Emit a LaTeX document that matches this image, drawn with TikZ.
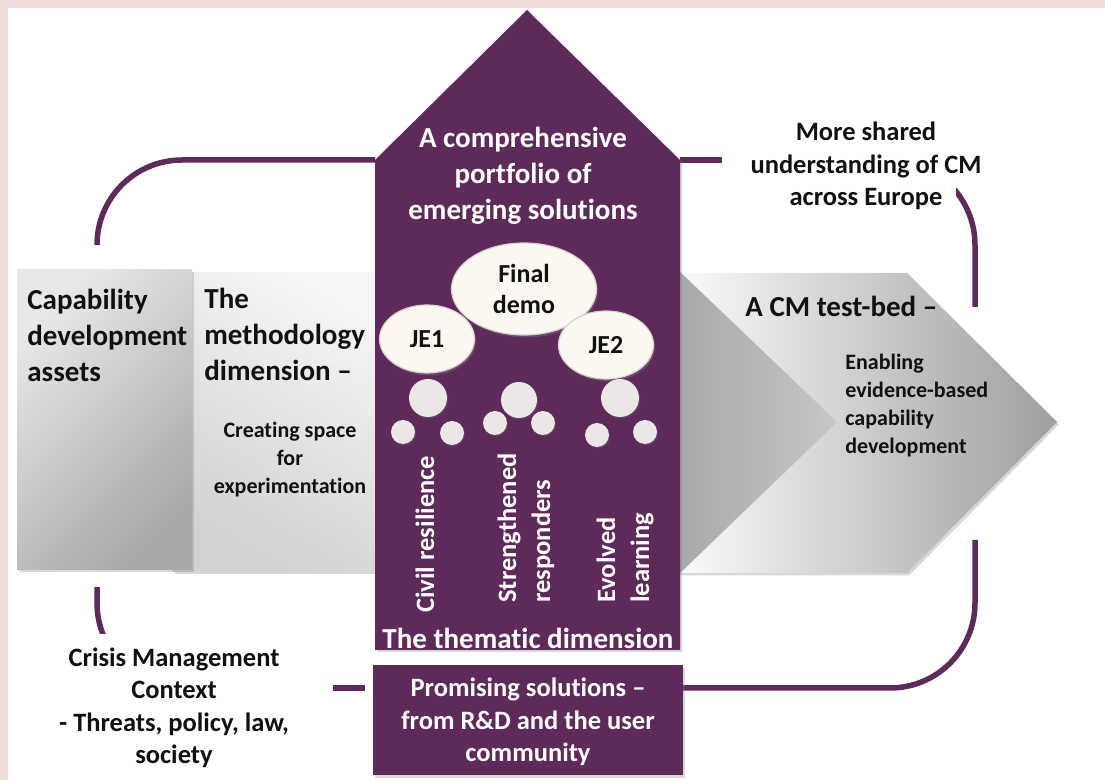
\documentclass[tikz,border=0pt]{standalone}
\usepackage{fontspec}
\setmainfont{Carlito}[Ligatures={NoCommon}]
\usetikzlibrary{shapes.geometric,shadows}
\definecolor{purp}{HTML}{5D2A5A}
\definecolor{pinkbg}{HTML}{F1DCDC}
\definecolor{bubfill}{HTML}{FBF8F1}
\definecolor{bubedge}{HTML}{D8D2CC}
\definecolor{dotfill}{HTML}{ECE7E7}
\definecolor{txtblack}{HTML}{111111}
\newcommand\fbig{\fontsize{14.5}{18}\selectfont\bfseries}
\newcommand\fmid{\fontsize{13.25}{16.25}\selectfont\bfseries}
\newcommand\frot{\fontsize{13.25}{17}\selectfont\bfseries}
\newcommand\fsmall{\fontsize{11}{14}\selectfont\bfseries}
\newcommand\fbub{\fontsize{13}{15.5}\selectfont\bfseries}
\begin{document}
\begin{tikzpicture}[x=0.5pt,y=-0.5pt,
  conn/.style={draw=purp, line width=2.75pt},
  conncurve/.style={draw=purp, line width=2.75pt, rounded corners=42.5pt},
  bub/.style={ellipse, fill=bubfill, draw=bubedge, line width=0.6pt, inner sep=0pt, text=txtblack, font=\fbub, align=center,
    drop shadow={opacity=0.35, shadow xshift=0.8pt, shadow yshift=-1.2pt}},
  dotbig/.style={circle, fill=dotfill, inner sep=0pt, minimum size=19pt, drop shadow={opacity=0.25, shadow xshift=0.6pt, shadow yshift=-0.8pt}},
  dotsmall/.style={circle, fill=dotfill, inner sep=0pt, minimum size=12pt, drop shadow={opacity=0.25, shadow xshift=0.5pt, shadow yshift=-0.7pt}},
  btxt/.style={inner sep=0pt, text=txtblack},
  wtxt/.style={inner sep=0pt, text=white},
  boxshadow/.style={drop shadow={opacity=0.3, shadow xshift=1pt, shadow yshift=-1.2pt}},
]
\useasboundingbox (0,0) rectangle (1105,780);
\fill[white] (0,0) rectangle (1105,780);
\fill[pinkbg] (0,0) rectangle (1105,8);
\fill[pinkbg] (0,0) rectangle (8,780);

% connector loop pieces
\coordinate (tl) at (97,245);
\coordinate (houseL) at (375,160);
\coordinate (houseR) at (680,160);
\coordinate (trEnd) at (722,160);
\draw[conncurve] (tl) |- (houseL);
\draw[conn] (houseR) -- (trEnd);
\begin{scope}
  \clip (956,150) rectangle (1010,307);
  \draw[conncurve] (860,160) -| (975,330);
\end{scope}
\coordinate (brStart) at (975,540);
\coordinate (promR) at (683,688);
\draw[conncurve] (brStart) |- (promR);
\coordinate (dashA) at (333,688);
\coordinate (dashB) at (365,688);
\draw[conn] (dashA) -- (dashB);
\begin{scope}
  \clip (80,588) rectangle (130,634);
  \draw[conncurve] (97,560) |- (300,688);
\end{scope}

% grey blocks
\path[boxshadow, top color=white!96!black, bottom color=white!82!black, shading angle=-30]
  (173,273) rectangle (380,572);
\path[boxshadow, top color=white!91!black, bottom color=white!66!black, shading angle=45]
  (17,270) rectangle (192,570);
\path[boxshadow, left color=white!98!black, right color=white!62!black]
  (678,273) -- (907,273) -- (1057,422) -- (907,573) -- (678,573) -- cycle;
\path[left color=white!66!black, right color=white!78!black]
  (678,270) -- (837,422) -- (678,575) -- cycle;

% house
\path[fill=purp, drop shadow={opacity=0.3, shadow xshift=1pt, shadow yshift=-1pt}]
  (375,160) -- (527,10) -- (680,160) -- (680,650) -- (375,650) -- cycle;
\node[fill=purp, minimum width=155pt, minimum height=55pt, inner sep=0pt, anchor=north west, boxshadow] (prombox) at (373,665) {};

% texts
\node[btxt, anchor=west, align=left, font=\fbig] (cap) at (27,335) {Capability\\development\\assets};
\node[btxt, anchor=west, align=left, font=\fbig] (meth) at (204,334) {The\\methodology\\dimension –};
\node[btxt, align=center, font=\fsmall] (creat) at (290,460) {Creating space\\for\\experimentation};
\node[wtxt, align=center, font=\fbig] (compr) at (523,176) {A comprehensive\\portfolio of\\emerging solutions};
\node[btxt, align=center, font=\fmid] (more) at (866,166) {More shared\\understanding of CM\\across Europe};
\node[btxt, anchor=west, font=\fbig] (testbed) at (745,306) {A CM test-bed –};
\node[btxt, anchor=west, align=left, font=\fsmall] (enab) at (845,406) {Enabling\\evidence-based\\capability\\development};
\node[wtxt, font=\fbig] (them) at (528,638) {The thematic dimension};
\node[btxt, align=center, font=\fmid] (crisis) at (174,708) {Crisis Management\\Context\\- Threats, policy, law,\\society};
\node[wtxt, align=center, font=\fmid] (prom) at (528,722) {Promising solutions –\\from R\&D and the user\\community};

% rotated theme labels
\node[wtxt, rotate=90, anchor=west, font=\frot] (civil) at (425,613) {Civil resilience};
\node[wtxt, rotate=90, anchor=west, align=left, font=\frot] (streng) at (526,603) {Strengthened\\responders};
\node[wtxt, rotate=90, anchor=west, align=left, font=\frot] (evol) at (625,603) {Evolved\\learning};

% bubbles
\node[bub, minimum width=72.5pt, minimum height=46pt] (final) at (524,289) {Final\\demo};
\node[bub, minimum width=47.5pt, minimum height=34pt] (je1) at (427,339) {JE1};
\node[bub, minimum width=47.5pt, minimum height=34pt] (je2) at (606,345) {JE2};
\node[dotbig] (m1) at (428,398) {};
\node[dotbig, minimum size=18pt] (m2) at (519,400) {};
\node[dotbig] (m3) at (620,398) {};
\node[dotsmall] (s1) at (403,432) {};
\node[dotsmall] (s2) at (452,433) {};
\node[dotsmall] (s3) at (495,423) {};
\node[dotsmall] (s4) at (543,423) {};
\node[dotsmall] (s5) at (597,435) {};
\node[dotsmall] (s6) at (645,432) {};
\end{tikzpicture}
\end{document}
